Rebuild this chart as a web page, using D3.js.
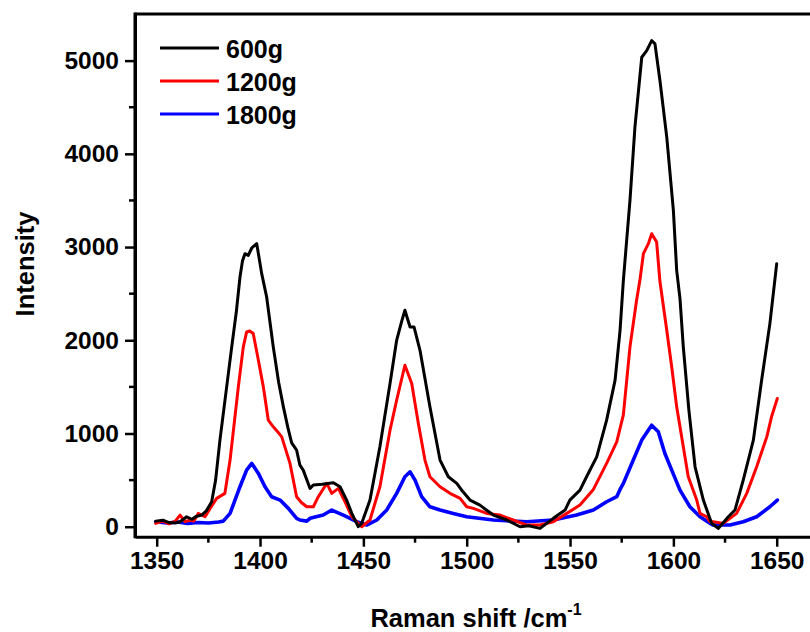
<!DOCTYPE html>
<html>
<head>
<meta charset="utf-8">
<script src="https://cdn.jsdelivr.net/npm/d3@7"></script>
<style>
  html, body { margin: 0; padding: 0; background: #fff; }
  svg { display: block; }
  text { font-family: "Liberation Sans", Arial, sans-serif; font-weight: bold; fill: #000; }
</style>
</head>
<body>
<svg id="chart" width="810" height="632"></svg>
<script>
// Raman spectra: [shift (cm^-1), intensity]
const series600 = [
  [1349.5,60],[1353,70],[1356,45],[1359,40],[1361.3,54],[1364.5,107],[1367,80],[1369,110],[1371.8,125],[1374,170],
  [1376.6,268],[1378.5,500],[1380.6,929],[1383,1350],[1386.3,1929],[1388.5,2300],[1390.3,2679],[1391.5,2850],[1392.7,2929],
  [1394.3,2911],[1396,2990],[1398.4,3036],[1400.8,2715],[1403.2,2464],[1406.4,1929],[1409,1550],[1411.3,1286],[1413.5,1060],
  [1415.3,900],[1417.7,822],[1419.3,660],[1420.9,607],[1424.2,411],[1425.8,447],[1430,455],[1435.5,472],[1438.7,429],
  [1441.9,286],[1444.4,144],[1447.5,0],[1449.2,36],[1453.2,286],[1458,857],[1462.9,1536],[1466.1,2000],[1468.5,2200],
  [1470.1,2322],[1471.5,2220],[1472.6,2143],[1474.5,2143],[1477.4,1893],[1482.2,1286],[1487.1,715],[1491.1,536],
  [1495.2,465],[1498,380],[1501.6,286],[1506.4,232],[1509.5,180],[1512.9,125],[1519.4,72],[1525.8,0],[1530,10],
  [1535.5,-18],[1541.9,90],[1547.6,179],[1549.9,286],[1554.8,393],[1558,536],[1562.9,750],[1567.7,1143],[1571.8,1572],
  [1574.2,2107],[1575.8,2643],[1579,3500],[1581.4,4286],[1584.7,5036],[1587.1,5107],[1589.5,5215],[1591.1,5179],
  [1593.5,4786],[1596.8,4179],[1600,3393],[1601.6,2750],[1603.2,2447],[1604.8,1929],[1607.5,1250],[1610.5,643],
  [1614.5,286],[1618.5,36],[1621.7,-18],[1626.6,107],[1629.8,179],[1633.8,500],[1638.7,929],[1642.7,1572],
  [1646.7,2179],[1650,2822]
];
const series1200 = [
  [1349.5,36],[1353,60],[1356,30],[1359,60],[1361.3,125],[1363.7,54],[1366,70],[1368,60],[1370.1,143],[1373.4,107],
  [1376,200],[1379,304],[1383,358],[1385.5,715],[1389.5,1500],[1391.9,1929],[1393.5,2089],[1395,2100],[1396.7,2072],
  [1399.2,1786],[1401.6,1500],[1404,1143],[1406.4,1072],[1408.5,1020],[1410.5,964],[1414.5,679],[1417.7,322],
  [1420,260],[1422.6,214],[1425.8,214],[1428.2,322],[1432.3,465],[1434.7,358],[1437.9,411],[1441.1,268],[1444.4,107],
  [1449.2,0],[1453.2,72],[1458,429],[1462.9,1036],[1466.1,1357],[1470.1,1732],[1473.4,1536],[1476.6,1107],
  [1479.8,715],[1482.2,536],[1487.1,429],[1491.9,358],[1496.8,304],[1500,214],[1503.2,197],[1509.7,143],[1516.1,125],
  [1522.5,72],[1529,18],[1535.5,18],[1541.9,54],[1548.4,143],[1554.8,232],[1561.3,400],[1567.7,679],[1572.6,910],
  [1575.8,1200],[1579,1929],[1582.2,2429],[1583.8,2643],[1585.5,2929],[1587.9,3036],[1589.5,3143],[1591.9,3054],
  [1593.5,2630],[1596.8,2107],[1599.2,1714],[1601.6,1286],[1604.8,857],[1607.2,536],[1611.3,286],[1612.9,143],
  [1616.1,107],[1617.7,54],[1619.3,54],[1624.2,36],[1630.6,143],[1635.5,358],[1640.3,643],[1645.2,964],
  [1647.5,1179],[1650.3,1375]
];
const series1800 = [
  [1349.5,54],[1355,40],[1360,50],[1365,35],[1370,45],[1375,40],[1380,50],[1382.2,60],[1385.5,143],[1390.3,429],
  [1393.5,607],[1396,679],[1399.2,572],[1402.4,429],[1405.6,322],[1409.7,286],[1413.7,197],[1417.7,90],[1419.3,72],
  [1422.6,60],[1424.2,90],[1430.6,125],[1434.7,179],[1440.3,125],[1446.8,54],[1451.6,18],[1456.5,72],[1461.3,179],
  [1466.1,358],[1470.1,536],[1472.6,589],[1475,500],[1478.2,322],[1482.2,214],[1487.1,179],[1493.5,143],[1500,107],
  [1512.9,72],[1529,54],[1541.9,72],[1553.2,125],[1561.3,179],[1567.7,268],[1572.6,322],[1574.2,400],[1575.8,465],
  [1580.6,715],[1584.7,929],[1589.5,1089],[1592.7,1018],[1595.9,786],[1599.2,607],[1603.2,393],[1608,214],
  [1612.9,107],[1617.7,36],[1619.3,18],[1627.4,18],[1633.8,54],[1640.3,107],[1646.7,214],[1650.3,286]
];

const seriesNames = ["600g", "1200g", "1800g"];
const seriesColors = ["#000000", "#ff0000", "#0000ff"];
const xTicks = [1350, 1400, 1450, 1500, 1550, 1600, 1650];
const xMinorTicks = [1375, 1425, 1475, 1525, 1575, 1625];
const yTicks = [0, 1000, 2000, 3000, 4000, 5000];
const yMinorTicks = [500, 1500, 2500, 3500, 4500];

const svg = d3.select("#chart");
const plotLeft = 135, plotTop = 14, plotBottom = 536.7;

const x = d3.scaleLinear().domain([1339.5, 1672]).range([plotLeft, plotLeft + 332.5 * 2.0667]);
const y = d3.scaleLinear().domain([-107, 5500]).range([plotBottom, plotTop]);

// Spectra
const line = d3.line().x(d => x(d[0])).y(d => y(d[1]));
const allSeries = [series600, series1200, series1800];
// blue first so black/red sit on top where they overlap at the baseline
[2, 1, 0].forEach(i => {
  svg.append("path")
    .datum(allSeries[i])
    .attr("d", line)
    .attr("fill", "none")
    .attr("stroke", seriesColors[i])
    .attr("stroke-width", i === 2 ? 3.6 : 3)
    .attr("stroke-linejoin", "round")
    .attr("stroke-linecap", "round");
});

// Frame: top edge
svg.append("line")
  .attr("x1", plotLeft).attr("x2", 830).attr("y1", plotTop).attr("y2", plotTop)
  .attr("stroke", "#000").attr("stroke-width", 3);

// Bottom axis
const xAxis = svg.append("g").attr("transform", `translate(0,${plotBottom})`)
  .call(d3.axisBottom(x).tickValues(xTicks).tickSize(10).tickSizeOuter(0).tickPadding(5).tickFormat(d3.format("d")));
xAxis.select(".domain").attr("stroke-width", 3);
xAxis.selectAll(".tick line").attr("stroke-width", 2.5);
xAxis.selectAll(".tick text").attr("font-size", 24.5);
svg.append("g").attr("transform", `translate(0,${plotBottom})`)
  .selectAll("line").data(xMinorTicks).join("line")
  .attr("x1", d => x(d)).attr("x2", d => x(d)).attr("y1", 0).attr("y2", 6)
  .attr("stroke", "#000").attr("stroke-width", 2.5);

// Left axis
const yAxis = svg.append("g").attr("transform", `translate(${plotLeft},0)`)
  .call(d3.axisLeft(y).tickValues(yTicks).tickSize(10).tickSizeOuter(0).tickPadding(6).tickFormat(d3.format("d")));
yAxis.select(".domain").attr("stroke-width", 3);
yAxis.selectAll(".tick line").attr("stroke-width", 2.5);
yAxis.selectAll(".tick text").attr("font-size", 24.5);
svg.append("g").attr("transform", `translate(${plotLeft},0)`)
  .selectAll("line").data(yMinorTicks).join("line")
  .attr("x1", 0).attr("x2", -6).attr("y1", d => y(d)).attr("y2", d => y(d))
  .attr("stroke", "#000").attr("stroke-width", 2.5);

// left edge joins the top border
svg.append("line")
  .attr("x1", plotLeft).attr("x2", plotLeft).attr("y1", plotTop - 1.5).attr("y2", plotBottom + 1.5)
  .attr("stroke", "#000").attr("stroke-width", 3);

// Axis titles
const xTitle = svg.append("text")
  .attr("x", 476).attr("y", 627).attr("text-anchor", "middle").attr("font-size", 25.5);
xTitle.append("tspan").text("Raman shift /cm");
xTitle.append("tspan").attr("dy", -12).attr("font-size", 16).text("-1");

svg.append("text")
  .attr("transform", "translate(34,264) rotate(-90)")
  .attr("text-anchor", "middle").attr("font-size", 25.5)
  .text("Intensity");

// Legend
const legend = svg.append("g");
seriesNames.forEach((name, i) => {
  const ly = 48 + i * 33;
  legend.append("line")
    .attr("x1", 160).attr("x2", 219).attr("y1", ly).attr("y2", ly)
    .attr("stroke", seriesColors[i]).attr("stroke-width", 3);
  legend.append("text")
    .attr("x", 226).attr("y", ly + 10).attr("font-size", 25)
    .text(name);
});
</script>
</body>
</html>
